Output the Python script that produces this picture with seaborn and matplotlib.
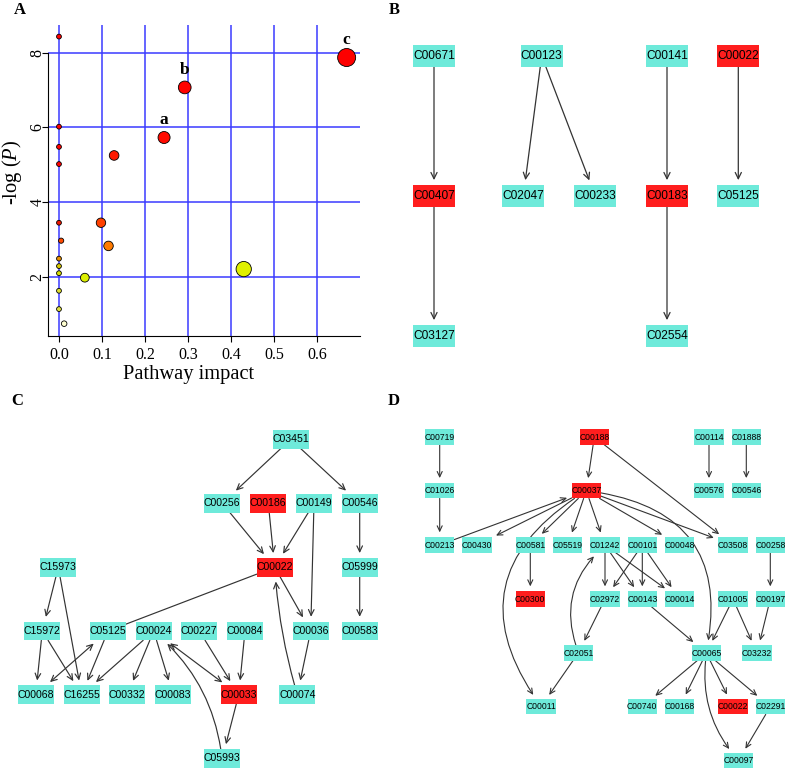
import numpy as np
import pandas as pd
import matplotlib
matplotlib.use('Agg')
import matplotlib.pyplot as plt
import seaborn as sns
from matplotlib.patches import Rectangle

# ---------------- Panel A data ----------------
impact = [0.0, 0.0, 0.0, 0.0, 0.0, 0.005, 0.0, 0.0, 0.0, 0.0, 0.0, 0.012,
          0.060, 0.0975, 0.115, 0.128, 0.244, 0.292, 0.429, 0.668]
neglogp = [8.43, 6.02, 5.48, 5.02, 3.45, 2.97, 2.49, 2.29, 2.10, 1.63, 1.14, 0.75,
           1.98, 3.45, 2.83, 5.25, 5.73, 7.07, 2.21, 7.87]
point_size = [12, 12, 12, 12, 12, 14, 12, 12, 12, 12, 12, 16,
              40, 46, 47, 48, 75, 84, 121, 168]
point_color = ['#FF0000', '#FF0000', '#FF0000', '#FF0000', '#F01800', '#FF4A00',
               '#E89000', '#D8C800', '#D8E000', '#E0E030', '#E0E040', '#FFFFD0',
               '#DDF000', '#FF4000', '#FF7A00', '#FF1A00', '#FF0A00', '#FE0000',
               '#E0F000', '#FD0000']
point_label = ['', '', '', '', '', '', '', '', '', '', '', '',
               '', '', '', '', 'a', 'b', '', 'c']
x_ticks = [0.0, 0.1, 0.2, 0.3, 0.4, 0.5, 0.6]
y_ticks = [2, 4, 6, 8]

# ---------------- Panel B network ----------------
B_nodes = ['C00671', 'C00123', 'C00141', 'C00022', 'C00407', 'C02047', 'C00233',
           'C00183', 'C05125', 'C03127', 'C02554']
B_red = ['C00022', 'C00407', 'C00183']
B_edges = [('C00671', 'C00407', '->', 0), ('C00407', 'C03127', '->', 0),
           ('C00123', 'C02047', '->', 0), ('C00123', 'C00233', '->', 0),
           ('C00141', 'C00183', '->', 0), ('C00183', 'C02554', '->', 0),
           ('C00022', 'C05125', '->', 0)]

# ---------------- Panel C network ----------------
C_nodes = ['C03451', 'C00256', 'C00186', 'C00149', 'C00546', 'C15973', 'C00022',
           'C05999', 'C15972', 'C05125', 'C00024', 'C00227', 'C00084', 'C00036',
           'C00583', 'C00068', 'C16255', 'C00332', 'C00083', 'C00033', 'C00074',
           'C05993']
C_red = ['C00186', 'C00022', 'C00033']
C_edges = [('C03451', 'C00256', '->', 0), ('C03451', 'C00546', '->', 0),
           ('C00256', 'C00022', '->', 0), ('C00186', 'C00022', '->', 0),
           ('C00149', 'C00022', '->', 0), ('C00149', 'C00036', '->', 0),
           ('C00546', 'C05999', '->', 0), ('C05999', 'C00583', '->', 0),
           ('C00022', 'C00036', '->', 0), ('C05125', 'C00022', '-', 0),
           ('C15973', 'C15972', '->', 0), ('C15973', 'C16255', '->', 0),
           ('C15972', 'C00068', '->', 0), ('C15972', 'C16255', '->', 0),
           ('C05125', 'C00068', '<->', 0), ('C05125', 'C16255', '->', 0),
           ('C00024', 'C16255', '->', 0), ('C00024', 'C00332', '->', 0),
           ('C00024', 'C00083', '->', 0), ('C00024', 'C00033', '<->', 0),
           ('C00227', 'C00033', '->', 0), ('C00084', 'C00033', '->', 0),
           ('C00036', 'C00074', '->', 0), ('C00074', 'C00022', '->', -0.05),
           ('C00033', 'C05993', '->', 0), ('C05993', 'C00024', '->', 0.17)]

# ---------------- Panel D network ----------------
D_nodes = ['C00719', 'C00188', 'C00114', 'C01888', 'C01026', 'C00037', 'C00576',
           'C00546', 'C00213', 'C00430', 'C00581', 'C05519', 'C01242', 'C00101',
           'C00048', 'C03508', 'C00258', 'C00300', 'C02972', 'C00143', 'C00014',
           'C01005', 'C00197', 'C02051', 'C00065', 'C03232', 'C00011', 'C00740',
           'C00168', 'C00022', 'C02291', 'C00097']
D_red = ['C00188', 'C00037', 'C00300', 'C00022']
D_edges = [('C00719', 'C01026', '->', 0), ('C01026', 'C00213', '->', 0),
           ('C00188', 'C00037', '->', 0), ('C00188', 'C03508', '->', 0),
           ('C00114', 'C00576', '->', 0), ('C01888', 'C00546', '->', 0),
           ('C00037', 'C00430', '->', 0), ('C00037', 'C00581', '->', 0),
           ('C00037', 'C05519', '->', 0), ('C00037', 'C01242', '->', 0),
           ('C00037', 'C00048', '->', 0), ('C00037', 'C03508', '->', 0),
           ('C00037', 'C00065', '->', -0.5), ('C00037', 'C00011', '->', 0.5),
           ('C00213', 'C00037', '->', 0), ('C00581', 'C00300', '->', 0),
           ('C01242', 'C02972', '->', 0), ('C01242', 'C00143', '->', 0),
           ('C01242', 'C00014', '->', 0), ('C00101', 'C02972', '->', 0),
           ('C00101', 'C00143', '->', 0), ('C00101', 'C00014', '->', 0),
           ('C00258', 'C00197', '->', 0), ('C00143', 'C00065', '->', 0),
           ('C01005', 'C00065', '->', 0), ('C01005', 'C03232', '->', 0),
           ('C00197', 'C03232', '->', 0), ('C02972', 'C02051', '->', 0),
           ('C02051', 'C01242', '->', -0.3), ('C02051', 'C00011', '->', 0),
           ('C00065', 'C00740', '->', 0), ('C00065', 'C00168', '->', 0),
           ('C00065', 'C00022', '->', 0), ('C00065', 'C02291', '->', 0),
           ('C00065', 'C00097', '->', 0.2), ('C02291', 'C00097', '->', 0)]

# ---------------- Layouts (figure pixel positions, y downwards) ----------------
B_layout = {'C00671': (434, 56), 'C00123': (541.7, 56), 'C00141': (667, 56),
            'C00022': (738.3, 56), 'C00407': (434, 196), 'C02047': (523.3, 196),
            'C00233': (595.3, 196), 'C00183': (667, 196), 'C05125': (738.3, 196),
            'C03127': (434, 336), 'C02554': (667, 336)}
C_layout = {'C03451': (290.7, 439.3), 'C00256': (222.3, 503.3), 'C00186': (268.3, 503.3),
            'C00149': (314, 503.3), 'C00546': (359.7, 503.3), 'C15973': (58.3, 567.3),
            'C00022': (274.7, 567.3), 'C05999': (359.7, 567.3), 'C15972': (42.3, 631),
            'C05125': (108, 631), 'C00024': (153.7, 631), 'C00227': (199.3, 631),
            'C00084': (245, 631), 'C00036': (310.7, 631), 'C00583': (359.7, 631),
            'C00068': (35.7, 694.7), 'C16255': (81.7, 694.7), 'C00332': (127.3, 694.7),
            'C00083': (173, 694.7), 'C00033': (238.7, 694.7), 'C00074': (297.3, 694.7),
            'C05993': (222.3, 758.3)}
D_layout = {'C00719': (439.7, 437), 'C00188': (594.3, 437), 'C00114': (709, 437),
            'C01888': (746.3, 437), 'C01026': (439.7, 490.7), 'C00037': (586.3, 490.7),
            'C00576': (709, 490.7), 'C00546': (746.3, 490.7),
            'C00213': (439.7, 545), 'C00430': (477, 545), 'C00581': (530.3, 545),
            'C05519': (567.7, 545), 'C01242': (605, 545), 'C00101': (642.3, 545),
            'C00048': (679.7, 545), 'C03508': (733, 545), 'C00258': (770.3, 545),
            'C00300': (530.3, 599), 'C02972': (605, 599), 'C00143': (642.3, 599),
            'C00014': (679.7, 599), 'C01005': (733, 599), 'C00197': (770.3, 599),
            'C02051': (578.3, 653), 'C00065': (706.3, 653), 'C03232': (757, 653),
            'C00011': (541, 706.7), 'C00740': (642.3, 706.7), 'C00168': (679.7, 706.7),
            'C00022': (733, 706.7), 'C02291': (770.3, 706.7), 'C00097': (738.3, 760.7)}

TEAL = '#6EEADA'
RED = '#FF1E1E'
SERIF = 'Liberation Serif'
SANS = 'Liberation Sans'

plt.rcParams['font.family'] = SERIF
plt.rcParams['mathtext.fontset'] = 'custom'
plt.rcParams['mathtext.rm'] = SERIF
plt.rcParams['mathtext.it'] = SERIF + ':italic'

W, H = 787, 770
fig = plt.figure(figsize=(W / 100, H / 100), dpi=100)

# ---------------- Panel A ----------------
axA = fig.add_axes([47.7 / W, 1 - 336 / H, (360 - 47.7) / W, (336 - 25) / H])
dfA = pd.DataFrame({'impact': impact, 'neglogp': neglogp,
                    'size': point_size, 'color': point_color})
sns.scatterplot(data=dfA, x='impact', y='neglogp', hue='color',
                palette={c: c for c in point_color},
                size='size', sizes={s: s for s in point_size},
                edgecolor='black', linewidth=0.6, legend=False, ax=axA, zorder=3)
axA.set_xlim(-0.0262, 0.699)
axA.set_ylim(0.42, 8.74)
axA.set_axisbelow(True)
axA.grid(True, color='#3b3bff', lw=1.1)
axA.set_xticks(x_ticks)
axA.set_xticklabels([f'{t:.1f}' for t in x_ticks])
axA.set_yticks(y_ticks)
axA.set_yticklabels([str(t) for t in y_ticks], rotation=90, va='center')
axA.tick_params(length=4, width=0.8, labelsize=11.5)
axA.tick_params(axis='x', pad=4)
axA.tick_params(axis='y', pad=-2.3)
for s in ['top', 'right']:
    axA.spines[s].set_visible(False)
axA.spines['left'].set_bounds(0.42, 8)
axA.spines['left'].set_linewidth(0.8)
axA.spines['bottom'].set_linewidth(0.8)
axA.set_xlabel('')
axA.set_ylabel('')
for xi, yi, lab in zip(impact, neglogp, point_label):
    if lab:
        axA.annotate(lab, (xi, yi), xytext=(0, 12.5), textcoords='offset points',
                     ha='center', va='center', fontsize=12.5, fontweight='bold')
fig.text(188.8 / W, 1 - 375 / H, 'Pathway impact', ha='center', va='center', fontsize=14.8)
fig.text(12 / W, 1 - 172.5 / H, r'-log ($\mathit{P}$)', ha='center', va='center',
         rotation=90, fontsize=14.8)

# ---------------- Network panels ----------------
axN = fig.add_axes([0, 0, 1, 1])
axN.set_xlim(0, W)
axN.set_ylim(H, 0)
axN.axis('off')
axN.patch.set_alpha(0)


def clip(c, hw, hh, toward):
    dx, dy = toward[0] - c[0], toward[1] - c[1]
    t = min(hw / abs(dx) if dx else np.inf, hh / abs(dy) if dy else np.inf)
    return (c[0] + dx * t, c[1] + dy * t)


def draw_net(nodes, red, edges, layout, bw, bh, fs, hl, hw_, lw):
    for n in nodes:
        x, y = layout[n]
        axN.add_patch(Rectangle((x - bw / 2, y - bh / 2), bw, bh,
                                fc=RED if n in red else TEAL, ec='none', zorder=3))
        axN.text(x, y, n, ha='center', va='center', fontsize=fs, family=SANS,
                 color='black', zorder=4)
    for s, t, style, rad in edges:
        ps, pt = layout[s], layout[t]
        if rad:
            mx, my = (ps[0] + pt[0]) / 2, (ps[1] + pt[1]) / 2
            dx, dy = pt[0] - ps[0], pt[1] - ps[1]
            ctrl = (mx - rad * dy, my + rad * dx)
            a = clip(ps, bw / 2, bh / 2, ctrl)
            b = clip(pt, bw / 2, bh / 2, ctrl)
        else:
            a = clip(ps, bw / 2, bh / 2, pt)
            b = clip(pt, bw / 2, bh / 2, ps)
        if style == '->':
            ast = f'->,head_length={hl},head_width={hw_}'
        elif style == '<->':
            ast = f'<->,head_length={hl},head_width={hw_}'
        else:
            ast = '-'
        axN.annotate('', xy=b, xytext=a, xycoords='data', textcoords='data',
                     arrowprops=dict(arrowstyle=ast, color='#333333', lw=lw,
                                     shrinkA=0 if style != '<->' else 3.5,
                                     shrinkB=3.5 if style != '-' else 0,
                                     connectionstyle=f'arc3,rad={rad}'),
                     zorder=2)


draw_net(B_nodes, B_red, B_edges, B_layout, 41.7, 22, 8.6, 0.45, 0.22, 0.9)
draw_net(C_nodes, C_red, C_edges, C_layout, 36, 18.7, 7.6, 0.42, 0.2, 0.85)
draw_net(D_nodes, D_red, D_edges, D_layout, 29.3, 15.5, 6.2, 0.38, 0.18, 0.8)

# ---------------- Panel letters ----------------
for lab, (px, py) in zip(['A', 'B', 'C', 'D'],
                         [(19.5, 10.5), (394, 10.5), (17, 401), (394, 401)]):
    fig.text(px / W, 1 - py / H, lab, ha='center', va='center',
             fontsize=12, fontweight='bold')

fig.savefig('out.png', dpi=100)
